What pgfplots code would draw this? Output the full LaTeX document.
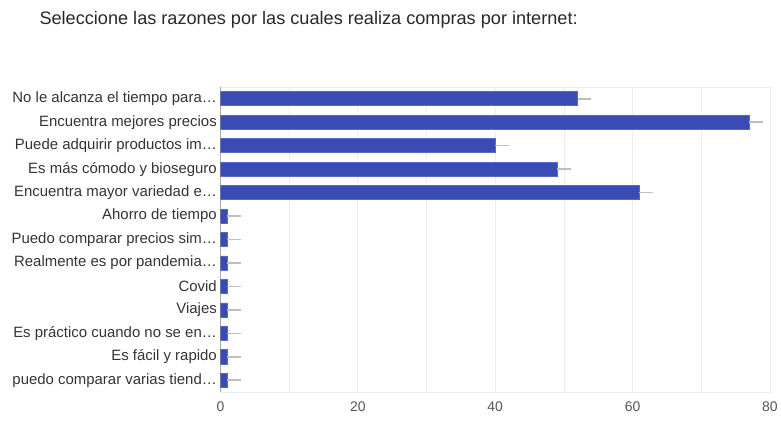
\documentclass[border=0pt]{standalone}
\usepackage{pgfplots}
\pgfplotsset{compat=1.18}
\usepackage{fontspec}
\setmainfont{Liberation Sans}
\definecolor{barblue}{RGB}{58,76,180}
\definecolor{barbord}{RGB}{88,104,196}
\definecolor{whisk}{RGB}{190,190,190}
\definecolor{gridc}{RGB}{236,236,236}
\definecolor{labc}{RGB}{51,51,51}
\definecolor{titc}{RGB}{40,40,40}
\definecolor{tickc}{RGB}{85,85,85}
\begin{document}
\begin{tikzpicture}
\path[use as bounding box] (0,0) rectangle (781bp,422bp);
\node[anchor=base west, text=titc, font=\fontsize{18.2}{21}\selectfont] at (36bp,397bp) {Seleccione las razones por las cuales realiza compras por internet:};
\begin{axis}[
  at={(220.5bp,30bp)}, anchor=south west,
  scale only axis, width=549.5bp, height=305bp,
  xbar, bar width=0.6,
  xmin=0, xmax=80,
  ymin=-0.5, ymax=12.5, y dir=reverse,
  ytick={0,...,12},
  yticklabels={No le alcanza el tiempo para\dots,Encuentra mejores precios,Puede adquirir productos im\dots,Es más cómodo y bioseguro,Encuentra mayor variedad e\dots,Ahorro de tiempo,Puedo comparar precios sim\dots,Realmente es por pandemia\dots,Covid,Viajes,Es práctico cuando no se en\dots,Es fácil y rapido,puedo comparar varias tiend\dots},
  xtick={0,20,40,60,80},
  minor xtick={10,30,50,70},
  xmajorgrids, xminorgrids,
  grid style={gridc, line width=0.8bp},
  minor grid style={gridc, line width=0.8bp},
  major tick length=0pt, minor tick length=0pt,
  axis line style={gridc, line width=0.8bp},
  /pgf/number format/assume math mode=true,
  xticklabel style={text=tickc, font=\fontsize{14}{16}\selectfont, yshift=-6bp},
  yticklabel style={text=labc, font=\fontsize{15}{17}\selectfont, inner sep=0pt, xshift=-3.5bp},
]
\addplot[fill=barblue, draw=barbord, line width=0.6bp,
  error bars/.cd, x dir=plus, x explicit,
  error mark=none, error bar style={whisk, line width=1.6bp}]
  coordinates {
  (52,0) +- (2,0)
  (77,1) +- (2,0)
  (40,2) +- (2,0)
  (49,3) +- (2,0)
  (61,4) +- (2,0)
  (1,5) +- (2,0)
  (1,6) +- (2,0)
  (1,7) +- (2,0)
  (1,8) +- (2,0)
  (1,9) +- (2,0)
  (1,10) +- (2,0)
  (1,11) +- (2,0)
  (1,12) +- (2,0)
  };
\draw[labc, line width=1bp] (axis cs:0,-0.5) -- (axis cs:0,12.5);
\end{axis}
\end{tikzpicture}
\end{document}
